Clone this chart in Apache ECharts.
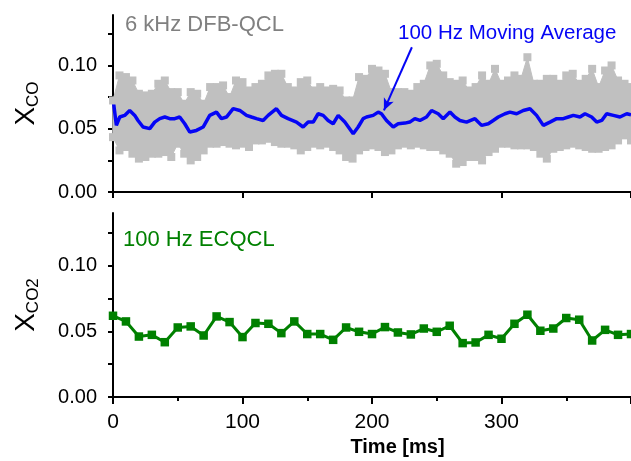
<!DOCTYPE html>
<html><head><meta charset="utf-8">
<script src="https://cdn.jsdelivr.net/npm/echarts@6/dist/echarts.min.js"></script>
<style>html,body{margin:0;padding:0;background:#fff}#c{width:631px;height:461px}</style>
</head><body><div id="c"></div>
<script>
// ---- data ----
const timeTickLabels = [0, 100, 200, 300];
const yTickLabels = [0, 0.05, 0.10];
const yTickValues = [0, 0.025, 0.05, 0.075, 0.10, 0.125];

// 6 kHz DFB-QCL raw data: upper / lower extent of the noisy trace, read every 5 ms
const grayT = [0,5,10,15,20,25,30,35,40,45,50,55,60,65,70,75,80,85,90,95,100,105,110,115,120,125,130,135,140,145,150,155,160,165,170,175,180,185,190,195,200,205,210,215,220,225,230,235,240,245,250,255,260,265,270,275,280,285,290,295,300,305,310,315,320,325,330,335,340,345,350,355,360,365,370,375,380,385,390,395,400];
const grayUpper = [0.0724,0.0922,0.0909,0.0882,0.0777,0.0764,0.0777,0.0856,0.0882,0.0790,
  0.0790,0.0698,0.0790,0.0777,0.0698,0.0830,0.0830,0.0843,0.0751,0.0882,
  0.0869,0.0803,0.0830,0.0856,0.0922,0.0935,0.0935,0.0830,0.0803,0.0869,
  0.0882,0.0803,0.0830,0.0803,0.0816,0.0803,0.0724,0.0724,0.0909,0.0895,
  0.0974,0.0961,0.0935,0.0790,0.0790,0.0790,0.0777,0.0830,0.0856,0.1001,
  0.1014,0.0922,0.0869,0.0856,0.0882,0.0803,0.0830,0.0922,0.0856,0.0974,
  0.0856,0.0882,0.0922,0.0895,0.1066,0.0856,0.0856,0.0895,0.0895,0.0856,
  0.0922,0.0935,0.0856,0.0895,0.0974,0.0830,0.0961,0.1001,0.0882,0.0856,
  0.0830];
const grayLower = [0.0434,0.0329,0.0356,0.0303,0.0264,0.0277,0.0303,0.0303,0.0316,0.0277,
  0.0382,0.0303,0.0250,0.0277,0.0329,0.0382,0.0382,0.0395,0.0382,0.0369,
  0.0382,0.0356,0.0408,0.0408,0.0421,0.0395,0.0382,0.0382,0.0369,0.0329,
  0.0356,0.0382,0.0369,0.0382,0.0356,0.0329,0.0277,0.0264,0.0329,0.0356,
  0.0369,0.0356,0.0316,0.0329,0.0369,0.0382,0.0369,0.0382,0.0369,0.0356,
  0.0356,0.0329,0.0303,0.0224,0.0237,0.0277,0.0277,0.0250,0.0316,0.0342,
  0.0382,0.0382,0.0369,0.0369,0.0369,0.0356,0.0303,0.0264,0.0342,0.0356,
  0.0369,0.0382,0.0369,0.0356,0.0342,0.0342,0.0356,0.0369,0.0408,0.0448,
  0.0408];

// 100 Hz moving average
const blueT = [0.5,2.6,5.2,9.0,12.9,16.8,19.3,23.2,28.4,32.2,36.1,40.0,43.8,47.7,51.5,55.4,59.3,64.4,69.6,74.7,79.9,83.7,87.6,92.8,97.9,103.1,106.9,110.8,115.9,119.8,126.2,130.1,135.2,141.7,146.8,150.7,154.6,158.4,162.3,166.1,170.0,173.9,179.0,185.5,189.3,193.2,
  195.8,200.9,204.8,207.3,211.2,216.4,220.2,225.4,229.2,233.1,237.0,242.1,246.0,251.1,255.0,260.2,264.0,267.9,273.0,279.5,284.6,289.8,293.6,297.5,302.7,306.5,311.7,316.8,322.0,327.1,332.3,337.4,342.6,347.7,351.6,355.5,360.6,364.5,369.6,373.5,377.4,381.2,386.4,391.5,396.7,400];
const blueV = [0.0698,0.0527,0.0593,0.0606,0.0645,0.0606,0.0566,0.0514,0.0501,0.0553,0.0580,0.0593,0.0580,0.0580,0.0593,0.0540,0.0474,0.0487,0.0514,0.0606,0.0632,0.0580,0.0593,0.0659,0.0645,0.0606,0.0593,0.0580,0.0566,0.0606,0.0659,0.0606,0.0580,0.0553,0.0514,0.0553,0.0553,0.0619,0.0606,0.0566,0.0540,0.0606,0.0553,0.0461,0.0514,0.0580,
  0.0593,0.0606,0.0632,0.0619,0.0566,0.0514,0.0540,0.0545,0.0553,0.0580,0.0566,0.0593,0.0645,0.0619,0.0580,0.0632,0.0593,0.0566,0.0553,0.0580,0.0527,0.0540,0.0566,0.0593,0.0619,0.0632,0.0619,0.0645,0.0659,0.0606,0.0527,0.0553,0.0580,0.0580,0.0593,0.0606,0.0593,0.0619,0.0593,0.0553,0.0566,0.0619,0.0606,0.0593,0.0619,0.0610];

// 100 Hz ECQCL (CO2)
const greenT = [0,10,20,30,40,50,60,70,80,90,100,110,120,130,140,150,160,170,180,190,200,210,220,230,240,250,260,270,280,290,300,310,320,330,340,350,360,370,380,390,400];
const greenV = [0.0618,0.0575,0.0460,0.0473,0.0417,0.0529,0.0537,0.0468,0.0613,0.0570,0.0456,0.0563,0.0557,0.0486,0.0575,0.0479,0.0479,0.0435,0.0529,0.0496,0.0479,0.0532,0.0491,0.0476,0.0521,0.0496,0.0542,0.0410,0.0415,0.0473,0.0443,0.0557,0.0626,0.0504,0.0521,0.0601,0.0588,0.0430,0.0511,0.0473,0.0479];

// arrow annotation (data coordinates)
const arrowFrom = [230.8, 0.1145];
const arrowTo = [209.2, 0.0645];

// ---- chart ----
const FONT = '"Liberation Sans", Arial, sans-serif';
const GRAY = '#c0c0c0', BLUE = '#0505f5', GREEN = '#008000';

function yAxis(gridIndex, sub) {
  return {
    type: 'value', gridIndex: gridIndex, min: 0, max: 0.14,
    axisLine: { show: true, lineStyle: { color: '#000', width: 2 } },
    axisTick: { show: true, inside: false, length: 5, customValues: yTickValues, lineStyle: { color: '#000', width: 2 } },
    axisLabel: { customValues: yTickLabels, formatter: v => v.toFixed(2), fontSize: 20, color: '#000', margin: 16, fontFamily: FONT },
    splitLine: { show: false },
    name: '{x|X}{s|' + sub + '}', nameLocation: 'middle', nameGap: 72, nameRotate: 90,
    nameTextStyle: {
      fontFamily: FONT, color: '#000',
      rich: {
        x: { fontSize: 28, fontFamily: FONT, color: '#000', lineHeight: 30 },
        s: { fontSize: 17, fontFamily: FONT, color: '#000', lineHeight: 30, padding: [14, 0, 0, 0] }
      }
    }
  };
}

const zig = [];
grayT.forEach((t, i) => { zig.push([t, grayUpper[i]]); zig.push([t, grayLower[i]]); });

function renderBand(params, api) {
  const pts = [];
  for (let i = 0; i < grayT.length; i++) pts.push(api.coord([grayT[i], grayUpper[i]]));
  for (let i = grayT.length - 1; i >= 0; i--) pts.push(api.coord([grayT[i], grayLower[i]]));
  return { type: 'polygon', shape: { points: pts }, style: { fill: GRAY, stroke: GRAY, lineWidth: 1 } };
}

const option = {
  animation: false,
  backgroundColor: '#fff',
  textStyle: { fontFamily: FONT },
  grid: [
    { left: 113, right: 0, top: 15, height: 177 },
    { left: 113, right: 0, top: 213, height: 184 }
  ],
  xAxis: [
    { type: 'value', gridIndex: 0, min: 0, max: 400, interval: 100,
      axisLine: { lineStyle: { color: '#000', width: 2 } },
      axisTick: { length: 6, lineStyle: { color: '#000', width: 2 } },
      axisLabel: { show: false }, splitLine: { show: false } },
    { type: 'value', gridIndex: 1, min: 0, max: 400, interval: 100,
      axisLine: { lineStyle: { color: '#000', width: 2 } },
      axisTick: { length: 7, lineStyle: { color: '#000', width: 2 } },
      minorTick: { show: true, splitNumber: 2, length: 4, lineStyle: { color: '#000', width: 2 } },
      axisLabel: { customValues: timeTickLabels, fontSize: 21, color: '#000', margin: 15, fontFamily: FONT },
      splitLine: { show: false }, minorSplitLine: { show: false },
      name: 'Time [ms]', nameLocation: 'middle', nameGap: 40,
      nameTextStyle: { fontSize: 20, fontWeight: 'bold', color: '#000', fontFamily: FONT, padding: [0, 0, 0, 51] } }
  ],
  yAxis: [yAxis(0, 'CO'), yAxis(1, 'CO2')],
  series: [
    { type: 'custom', xAxisIndex: 0, yAxisIndex: 0, silent: true, clip: true,
      data: [[0, 0]], renderItem: renderBand },
    { type: 'line', xAxisIndex: 0, yAxisIndex: 0, data: zig, showAllSymbol: true,
      symbol: 'rect', symbolSize: 8, itemStyle: { color: GRAY },
      lineStyle: { color: GRAY, width: 1.5 } },
    { type: 'line', xAxisIndex: 0, yAxisIndex: 0, data: blueT.map((t, i) => [t, blueV[i]]),
      symbol: 'none', lineStyle: { color: BLUE, width: 3.5 },
      markLine: { silent: true, symbol: ['none', 'arrow'], symbolSize: [8, 12],
        lineStyle: { color: BLUE, width: 2, type: 'solid' }, label: { show: false },
        data: [[{ coord: arrowFrom }, { coord: arrowTo }]] } },
    { type: 'line', xAxisIndex: 1, yAxisIndex: 1, data: greenT.map((t, i) => [t, greenV[i]]),
      symbol: 'rect', symbolSize: 8.5, showAllSymbol: true, itemStyle: { color: GREEN },
      lineStyle: { color: GREEN, width: 3 } }
  ],
  graphic: [
    { type: 'text', z: 100, left: 125, top: 14, style: { text: '6 kHz DFB-QCL', fill: '#808080', font: '22px ' + FONT } },
    { type: 'text', z: 100, left: 398, top: 23, style: { text: '100 Hz Moving Average', fill: BLUE, font: '20.5px ' + FONT } },
    { type: 'text', z: 100, left: 123, top: 229, style: { text: '100 Hz ECQCL', fill: GREEN, font: '22px ' + FONT } }
  ]
};
const chart = echarts.init(document.getElementById('c'));
chart.setOption(option);
</script></body></html>
